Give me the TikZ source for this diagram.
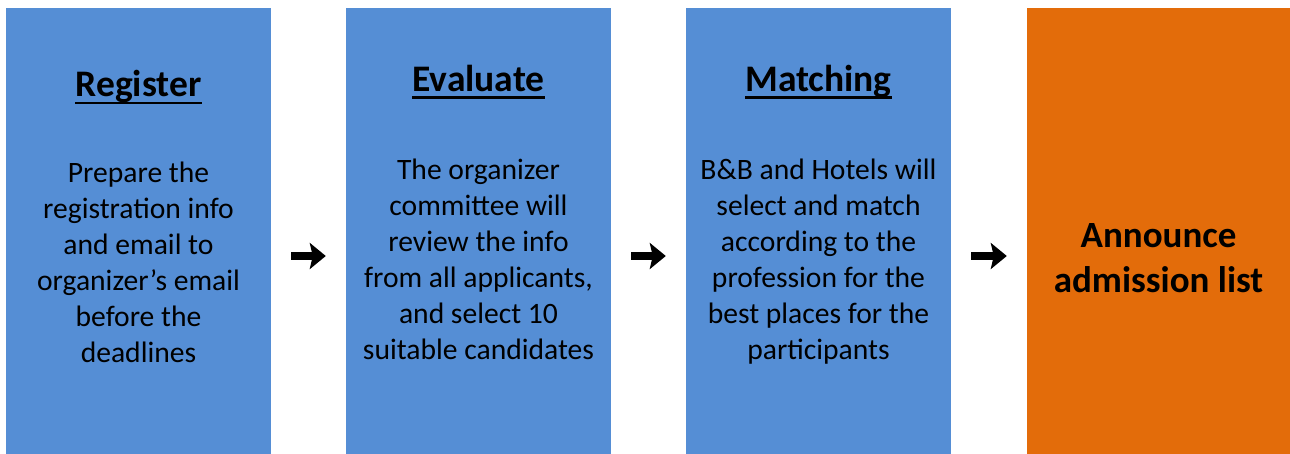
\documentclass[tikz,border=0pt]{standalone}
\usepackage{fontspec}
\setmainfont{Carlito}
\usetikzlibrary{arrows.meta}
\definecolor{stageblue}{RGB}{85,142,213}
\definecolor{stageorange}{RGB}{227,108,10}
\begin{document}
\begin{tikzpicture}[x=1pt,y=-1pt,
  stage/.style={fill=stageblue,minimum width=265pt,minimum height=446pt,inner sep=0pt},
  heading/.style={font=\fontsize{37.5}{45}\selectfont\bfseries,inner sep=0pt,anchor=base},
  detail/.style={font=\fontsize{29.6}{36}\selectfont,align=center,inner sep=0pt},
  uline/.style={line width=2.8pt},
  goon/.style={-{Stealth[length=16pt,width=26pt,inset=3pt]},line width=8pt,shorten <=20pt,shorten >=20pt}]
  \useasboundingbox (0,0) rectangle (1290,454);
  % the four stages
  \node[stage] (reg) at (138.5,231) {};
  \node[stage] (eva) at (478.5,231) {};
  \node[stage] (mat) at (818.5,231) {};
  \node[stage,fill=stageorange,minimum width=263pt] (ann) at (1158.5,231) {};
  % headings
  \node[heading] (regtitle) at (138.5,97) {Register};
  \node[heading] (evatitle) at (478.5,92) {Evaluate};
  \node[heading] (mattitle) at (818.5,92) {Matching};
  \draw[uline] ([yshift=-6pt]regtitle.base west) -- ([yshift=-6pt]regtitle.base east);
  \draw[uline] ([yshift=-5.5pt]evatitle.base west) -- ([yshift=-5.5pt]evatitle.base east);
  \draw[uline] ([yshift=-5.5pt]mattitle.base west) -- ([yshift=-5.5pt]mattitle.base east);
  % texts
  \node[detail] (regtext) at (138.5,262.5) {Prepare the\\registration info\\and email to\\organizer’s email\\before the\\deadlines};
  \node[detail] (evatext) at (478.5,259.5) {The organizer\\committee will\\review the info\\from all applicants,\\and select 10\\suitable candidates};
  \node[detail] (mattext) at (818.5,262) {B\&B and Hotels will\\select and match\\according to the\\profession for the\\best places for the\\participants};
  \node[detail,font=\fontsize{37}{45}\selectfont\bfseries] (anntext) at (1158.5,258) {Announce\\admission list};
  % arrows
  \draw[goon] ([yshift=-25pt]reg.east) -- ([yshift=-25pt]eva.west);
  \draw[goon] ([yshift=-25pt]eva.east) -- ([yshift=-25pt]mat.west);
  \draw[goon] ([yshift=-25pt]mat.east) -- ([yshift=-25pt]ann.west);
\end{tikzpicture}
\end{document}
